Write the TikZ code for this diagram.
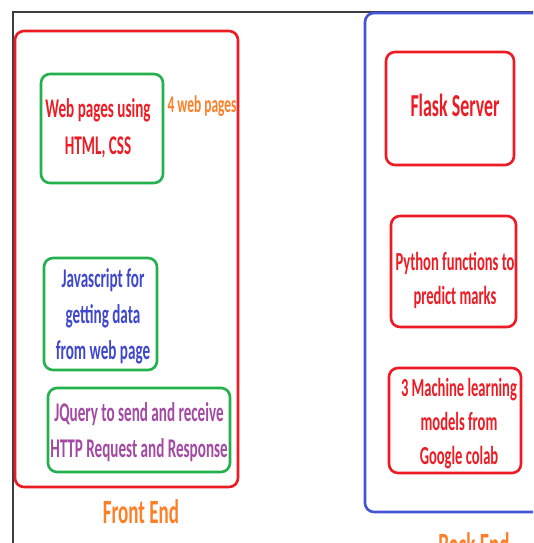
\documentclass[tikz,border=0pt]{standalone}
\usepackage{fontspec}
\setmainfont{Carlito}[FakeStretch=0.56]
\definecolor{cred}{RGB}{237,28,36}
\definecolor{cgreen}{RGB}{34,177,76}
\definecolor{cblue}{RGB}{68,84,214}
\definecolor{tblue}{RGB}{63,72,204}
\definecolor{tpurple}{RGB}{163,73,164}
\definecolor{corange}{RGB}{255,127,39}
\definecolor{frame}{RGB}{60,60,60}
\tikzset{
  box/.style={draw, line width=2.6pt, rounded corners=9pt, inner sep=0pt},
  lbl/.style={font=\bfseries, align=center, inner sep=0pt},
}
\begin{document}
\begin{tikzpicture}[x=1pt,y=-1pt]
\useasboundingbox (0,0) rectangle (533,543);
\clip (0,0) rectangle (533,543);
\fill[white] (0,0) rectangle (533,543);
% screenshot frame
\coordinate (ftl) at (13,12);
\coordinate (ftr) at (540,12);
\coordinate (fbl) at (13,550);
\draw[frame, line width=1.4pt] (ftr) -- (ftl) -- (fbl);
% front end
\node[box, cred, minimum width=223pt, minimum height=456pt] (front) at (126.5,259) {};
\node[box, cgreen, minimum width=122pt, minimum height=109pt] (web) at (102,128.5) {};
\node[box, cgreen, minimum width=113pt, minimum height=112pt] (js) at (100.5,314) {};
\node[box, cgreen, minimum width=182pt, minimum height=84pt] (jq) at (139,430) {};
\node[lbl, cred, font=\bfseries\fontsize{27}{37}\selectfont] (webt) at (98,128.5) {Web pages using\\HTML, CSS};
\node[lbl, corange, font=\bfseries\fontsize{24}{24}\selectfont] (four) at (202,106) {4 web pages};
\node[lbl, tblue, font=\bfseries\fontsize{27}{36}\selectfont] (jst) at (103,316) {Javascript for\\getting data\\from web page};
\node[lbl, tpurple, font=\bfseries\fontsize{27}{36}\selectfont] (jqt) at (139,432) {JQuery to send and receive\\HTTP Request and Response};
\node[lbl, corange, font=\bfseries\fontsize{34}{34}\selectfont] (fe) at (141,512) {Front End};
% back end
\node[box, cblue, minimum width=183pt, minimum height=499pt] (back) at (456.5,262.5) {};
\node[box, cred, minimum width=128pt, minimum height=113pt] (flask) at (450,108.5) {};
\node[box, cred, minimum width=125pt, minimum height=111pt] (py) at (453.5,271.5) {};
\node[box, cred, minimum width=132pt, minimum height=105pt] (ml) at (455,420.5) {};
\node[lbl, cred, font=\bfseries\fontsize{32}{34}\selectfont] (flaskt) at (455,105) {Flask Server};
\node[lbl, cred, font=\bfseries\fontsize{26}{34}\selectfont] (pyt) at (455,280) {Python functions to\\predict marks};
\node[lbl, cred, font=\bfseries\fontsize{26}{34}\selectfont] (mlt) at (459,424) {3 Machine learning\\models from\\Google colab};
\node[lbl, corange, font=\bfseries\fontsize{34}{34}\selectfont] (be) at (474,545) {Back End};
\end{tikzpicture}
\end{document}
